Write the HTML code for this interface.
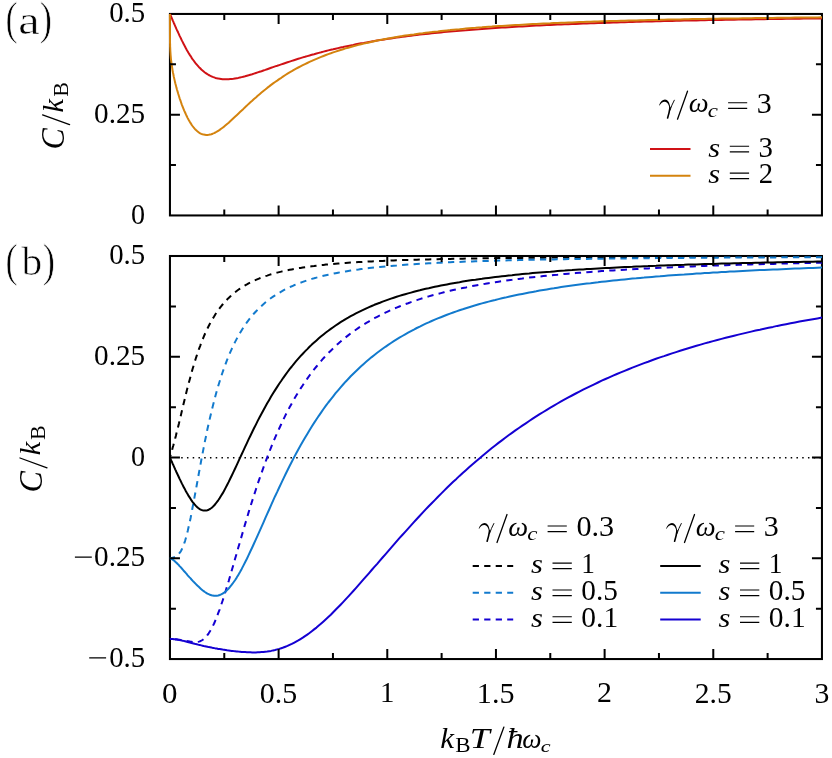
<!DOCTYPE html>
<html><head><meta charset="utf-8"><title>Specific heat of a damped free particle</title>
<style>
html,body{margin:0;padding:0;background:#fff;}
svg{display:block;}
text{font-family:"Liberation Serif",serif;font-size:200px;fill:#000;}
</style></head>
<body>
<svg width="832" height="758" viewBox="0 0 832 758">
<rect width="832" height="758" fill="#fff"/>
<!-- zero line -->
<path d="M181.2 457.82H821.0" stroke="#000" stroke-width="1.5" stroke-dasharray="1.5 4.25" fill="none"/>
<!-- frames -->
<rect x="169.95" y="13.95" width="652.00" height="201.50" fill="none" stroke="#000" stroke-width="2.05"/>
<rect x="169.95" y="256.00" width="652.00" height="403.05" fill="none" stroke="#000" stroke-width="2.05"/>
<!-- curves -->
<path d="M169.9 13.9 L170.2 14.4 L170.5 15.2 L170.7 15.7 L170.9 16.3 L171.2 16.8 L171.5 17.5 L171.8 18.3 L172.2 19.1 L172.5 20.0 L172.9 20.9 L173.4 21.9 L173.8 22.9 L174.3 24.0 L174.8 25.2 L175.3 26.3 L175.9 27.6 L176.4 28.9 L177.0 30.2 L177.7 31.5 L178.3 32.9 L179.0 34.4 L179.6 35.9 L180.4 37.4 L181.1 38.8 L181.8 40.4 L182.6 41.9 L183.4 43.5 L184.2 45.1 L185.1 46.7 L185.9 48.3 L186.8 49.9 L187.7 51.4 L188.6 53.0 L189.6 54.6 L190.6 56.1 L191.5 57.6 L192.5 59.1 L193.6 60.5 L194.6 61.9 L195.7 63.3 L196.8 64.6 L197.9 65.9 L199.0 67.2 L200.2 68.3 L201.3 69.5 L202.5 70.5 L203.7 71.5 L204.9 72.5 L206.2 73.4 L207.4 74.2 L208.7 75.0 L210.0 75.7 L211.4 76.3 L212.7 76.9 L214.1 77.4 L215.4 77.9 L216.8 78.2 L218.2 78.6 L219.7 78.8 L221.1 79.0 L222.6 79.2 L224.1 79.3 L225.6 79.3 L227.1 79.3 L228.7 79.2 L230.2 79.1 L231.8 79.0 L233.4 78.8 L235.0 78.5 L236.7 78.2 L238.3 77.9 L240.0 77.5 L241.7 77.1 L243.4 76.7 L245.1 76.3 L246.9 75.8 L248.6 75.3 L250.4 74.7 L252.2 74.2 L254.0 73.6 L255.9 73.0 L257.7 72.4 L259.6 71.8 L261.5 71.2 L263.4 70.5 L265.3 69.9 L267.2 69.2 L269.2 68.5 L271.1 67.8 L273.1 67.1 L275.1 66.4 L277.2 65.8 L279.2 65.1 L281.3 64.4 L283.3 63.7 L285.4 63.0 L287.5 62.3 L289.6 61.6 L291.8 60.9 L293.9 60.2 L296.1 59.5 L298.3 58.8 L300.5 58.1 L302.8 57.4 L305.0 56.8 L307.3 56.1 L309.5 55.5 L311.8 54.8 L314.1 54.2 L316.5 53.5 L318.8 52.9 L321.2 52.3 L323.5 51.6 L325.9 51.0 L328.3 50.4 L330.8 49.8 L333.2 49.3 L335.6 48.7 L338.1 48.1 L340.6 47.5 L343.1 47.0 L345.6 46.4 L348.2 45.9 L350.7 45.4 L353.3 44.9 L355.9 44.3 L358.5 43.8 L361.1 43.3 L363.7 42.9 L366.4 42.4 L369.1 41.9 L371.7 41.4 L374.4 41.0 L377.2 40.5 L379.9 40.1 L382.6 39.7 L385.4 39.2 L388.2 38.8 L391.0 38.4 L393.8 38.0 L396.6 37.6 L399.4 37.2 L402.3 36.8 L405.2 36.4 L408.1 36.1 L411.0 35.7 L413.9 35.3 L416.8 35.0 L419.8 34.6 L422.7 34.3 L425.7 34.0 L428.7 33.7 L431.7 33.3 L434.8 33.0 L437.8 32.7 L440.9 32.4 L443.9 32.1 L447.0 31.8 L450.1 31.5 L453.2 31.2 L456.4 31.0 L459.5 30.7 L462.7 30.4 L465.9 30.2 L469.1 29.9 L472.3 29.7 L475.5 29.4 L478.8 29.2 L482.0 28.9 L485.3 28.7 L488.6 28.5 L491.9 28.2 L495.2 28.0 L498.5 27.8 L501.9 27.6 L505.3 27.4 L508.6 27.2 L512.0 27.0 L515.4 26.8 L518.9 26.6 L522.3 26.4 L525.8 26.2 L529.2 26.0 L532.7 25.8 L536.2 25.6 L539.7 25.5 L543.3 25.3 L546.8 25.1 L550.4 25.0 L553.9 24.8 L557.5 24.6 L561.1 24.5 L564.7 24.3 L568.4 24.2 L572.0 24.0 L575.7 23.9 L579.4 23.7 L583.1 23.6 L586.8 23.4 L590.5 23.3 L594.2 23.2 L598.0 23.0 L601.7 22.9 L605.5 22.8 L609.3 22.7 L613.1 22.5 L616.9 22.4 L620.8 22.3 L624.6 22.2 L628.5 22.1 L632.4 21.9 L636.3 21.8 L640.2 21.7 L644.1 21.6 L648.1 21.5 L652.0 21.4 L656.0 21.3 L660.0 21.2 L664.0 21.1 L668.0 21.0 L672.0 20.9 L676.1 20.8 L680.1 20.7 L684.2 20.6 L688.3 20.5 L692.4 20.5 L696.5 20.4 L700.6 20.3 L704.7 20.2 L708.9 20.1 L713.1 20.0 L717.3 20.0 L721.5 19.9 L725.7 19.8 L729.9 19.7 L734.1 19.7 L738.4 19.6 L742.7 19.5 L746.9 19.4 L751.2 19.4 L755.6 19.3 L759.9 19.2 L764.2 19.2 L768.6 19.1 L773.0 19.0 L777.3 19.0 L781.7 18.9 L786.1 18.8 L790.6 18.8 L795.0 18.7 L799.5 18.7 L803.9 18.6 L808.4 18.5 L812.9 18.5 L817.4 18.4 L822.0 18.4 L822.0 18.4" stroke="#d01216" stroke-width="2" fill="none" stroke-linejoin="round" />
<path d="M169.9 13.9 L170.0 39.2 L170.0 43.1 L170.1 43.9 L170.1 46.3 L170.2 47.5 L170.3 49.9 L170.3 50.5 L170.5 53.3 L170.6 55.0 L170.7 56.0 L170.9 58.5 L171.0 59.5 L171.2 60.9 L171.5 63.3 L171.7 64.7 L171.8 65.6 L172.2 67.9 L172.5 70.1 L172.9 72.3 L173.4 74.5 L173.8 76.7 L174.3 78.9 L174.8 81.1 L175.3 83.3 L175.9 85.4 L176.4 87.6 L177.0 89.7 L177.7 91.9 L178.3 94.0 L179.0 96.2 L179.6 98.3 L180.4 100.4 L181.1 102.5 L181.8 104.6 L182.6 106.6 L183.4 108.6 L184.2 110.6 L185.1 112.5 L185.9 114.4 L186.8 116.3 L187.7 118.1 L188.6 119.8 L189.6 121.5 L190.6 123.1 L191.5 124.6 L192.5 126.0 L193.6 127.4 L194.6 128.6 L195.7 129.8 L196.8 130.8 L197.9 131.7 L199.0 132.6 L200.2 133.3 L201.3 133.8 L202.5 134.3 L203.7 134.6 L204.9 134.8 L206.2 135.0 L207.4 134.9 L208.7 134.8 L210.0 134.6 L211.4 134.2 L212.7 133.7 L214.1 133.1 L215.4 132.5 L216.8 131.7 L218.2 130.8 L219.7 129.9 L221.1 128.8 L222.6 127.7 L224.1 126.6 L225.6 125.3 L227.1 124.0 L228.7 122.7 L230.2 121.3 L231.8 119.8 L233.4 118.3 L235.0 116.8 L236.7 115.2 L238.3 113.7 L240.0 112.1 L241.7 110.5 L243.4 108.9 L245.1 107.2 L246.9 105.6 L248.6 103.9 L250.4 102.3 L252.2 100.7 L254.0 99.0 L255.9 97.4 L257.7 95.8 L259.6 94.2 L261.5 92.6 L263.4 91.0 L265.3 89.5 L267.2 87.9 L269.2 86.4 L271.1 84.9 L273.1 83.4 L275.1 82.0 L277.2 80.6 L279.2 79.1 L281.3 77.8 L283.3 76.4 L285.4 75.0 L287.5 73.7 L289.6 72.4 L291.8 71.2 L293.9 69.9 L296.1 68.7 L298.3 67.5 L300.5 66.3 L302.8 65.2 L305.0 64.1 L307.3 63.0 L309.5 61.9 L311.8 60.9 L314.1 59.8 L316.5 58.8 L318.8 57.9 L321.2 56.9 L323.5 56.0 L325.9 55.0 L328.3 54.1 L330.8 53.3 L333.2 52.4 L335.6 51.6 L338.1 50.8 L340.6 50.0 L343.1 49.2 L345.6 48.4 L348.2 47.7 L350.7 47.0 L353.3 46.3 L355.9 45.6 L358.5 44.9 L361.1 44.2 L363.7 43.6 L366.4 43.0 L369.1 42.4 L371.7 41.8 L374.4 41.2 L377.2 40.6 L379.9 40.1 L382.6 39.5 L385.4 39.0 L388.2 38.5 L391.0 38.0 L393.8 37.5 L396.6 37.0 L399.4 36.5 L402.3 36.1 L405.2 35.6 L408.1 35.2 L411.0 34.8 L413.9 34.4 L416.8 33.9 L419.8 33.5 L422.7 33.2 L425.7 32.8 L428.7 32.4 L431.7 32.1 L434.8 31.7 L437.8 31.4 L440.9 31.0 L443.9 30.7 L447.0 30.4 L450.1 30.1 L453.2 29.7 L456.4 29.4 L459.5 29.2 L462.7 28.9 L465.9 28.6 L469.1 28.3 L472.3 28.0 L475.5 27.8 L478.8 27.5 L482.0 27.3 L485.3 27.0 L488.6 26.8 L491.9 26.6 L495.2 26.3 L498.5 26.1 L501.9 25.9 L505.3 25.7 L508.6 25.5 L512.0 25.3 L515.4 25.1 L518.9 24.9 L522.3 24.7 L525.8 24.5 L529.2 24.3 L532.7 24.1 L536.2 24.0 L539.7 23.8 L543.3 23.6 L546.8 23.4 L550.4 23.3 L553.9 23.1 L557.5 23.0 L561.1 22.8 L564.7 22.7 L568.4 22.5 L572.0 22.4 L575.7 22.2 L579.4 22.1 L583.1 22.0 L586.8 21.8 L590.5 21.7 L594.2 21.6 L598.0 21.5 L601.7 21.3 L605.5 21.2 L609.3 21.1 L613.1 21.0 L616.9 20.9 L620.8 20.8 L624.6 20.7 L628.5 20.6 L632.4 20.5 L636.3 20.4 L640.2 20.3 L644.1 20.2 L648.1 20.1 L652.0 20.0 L656.0 19.9 L660.0 19.8 L664.0 19.7 L668.0 19.6 L672.0 19.5 L676.1 19.4 L680.1 19.4 L684.2 19.3 L688.3 19.2 L692.4 19.1 L696.5 19.0 L700.6 19.0 L704.7 18.9 L708.9 18.8 L713.1 18.8 L717.3 18.7 L721.5 18.6 L725.7 18.6 L729.9 18.5 L734.1 18.4 L738.4 18.4 L742.7 18.3 L746.9 18.2 L751.2 18.2 L755.6 18.1 L759.9 18.1 L764.2 18.0 L768.6 17.9 L773.0 17.9 L777.3 17.8 L781.7 17.8 L786.1 17.7 L790.6 17.7 L795.0 17.6 L799.5 17.6 L803.9 17.5 L808.4 17.5 L812.9 17.4 L817.4 17.4 L822.0 17.3 L822.0 17.3" stroke="#d4830e" stroke-width="2" fill="none" stroke-linejoin="round" />
<path d="M169.9 457.5 L170.1 456.9 L170.3 456.3 L170.5 455.6 L170.7 454.9 L170.9 454.0 L171.2 453.1 L171.5 452.0 L171.7 451.3 L172.2 449.6 L172.5 448.2 L172.9 446.8 L173.4 445.2 L173.8 443.5 L174.3 441.8 L174.8 439.9 L175.3 437.9 L175.9 435.7 L176.4 433.5 L177.0 431.1 L177.7 428.6 L178.3 426.0 L179.0 423.3 L179.6 420.4 L180.4 417.5 L181.1 414.4 L181.8 411.2 L182.6 408.0 L183.4 404.6 L184.2 401.2 L185.1 397.7 L185.9 394.2 L186.8 390.6 L187.7 387.1 L188.6 383.5 L189.6 379.9 L190.6 376.3 L191.5 372.7 L192.5 369.2 L193.6 365.6 L194.6 362.2 L195.7 358.8 L196.8 355.4 L197.9 352.1 L199.0 348.9 L200.2 345.8 L201.3 342.7 L202.5 339.7 L203.7 336.8 L204.9 334.0 L206.2 331.2 L207.4 328.6 L208.7 326.0 L210.0 323.5 L211.4 321.1 L212.7 318.7 L214.1 316.5 L215.4 314.3 L216.8 312.2 L218.2 310.2 L219.7 308.2 L221.1 306.3 L222.6 304.5 L224.1 302.8 L225.6 301.1 L227.1 299.5 L228.7 297.9 L230.2 296.5 L231.8 295.0 L233.4 293.6 L235.0 292.3 L236.7 291.0 L238.3 289.8 L240.0 288.6 L241.7 287.5 L243.4 286.4 L245.1 285.4 L246.9 284.4 L248.6 283.4 L250.4 282.5 L252.2 281.6 L254.0 280.7 L255.9 279.9 L257.7 279.1 L259.6 278.3 L261.5 277.6 L263.4 276.9 L265.3 276.2 L267.2 275.6 L269.2 274.9 L271.1 274.3 L273.1 273.7 L275.1 273.2 L277.2 272.6 L279.2 272.1 L281.3 271.6 L283.3 271.1 L285.4 270.7 L287.5 270.2 L289.6 269.8 L291.8 269.4 L293.9 269.0 L296.1 268.6 L298.3 268.2 L300.5 267.9 L302.8 267.5 L305.0 267.2 L307.3 266.9 L309.5 266.5 L311.8 266.2 L314.1 266.0 L316.5 265.7 L318.8 265.4 L321.2 265.1 L323.5 264.9 L325.9 264.6 L328.3 264.4 L330.8 264.2 L333.2 264.0 L335.6 263.7 L338.1 263.5 L340.6 263.3 L343.1 263.1 L345.6 263.0 L348.2 262.8 L350.7 262.6 L353.3 262.4 L355.9 262.3 L358.5 262.1 L361.1 262.0 L363.7 261.8 L366.4 261.7 L369.1 261.5 L371.7 261.4 L374.4 261.3 L377.2 261.1 L379.9 261.0 L382.6 260.9 L385.4 260.8 L388.2 260.7 L391.0 260.5 L393.8 260.4 L396.6 260.3 L399.4 260.2 L402.3 260.1 L405.2 260.0 L408.1 259.9 L411.0 259.9 L413.9 259.8 L416.8 259.7 L419.8 259.6 L422.7 259.5 L425.7 259.4 L428.7 259.4 L431.7 259.3 L434.8 259.2 L437.8 259.2 L440.9 259.1 L443.9 259.0 L447.0 259.0 L450.1 258.9 L453.2 258.8 L456.4 258.8 L459.5 258.7 L462.7 258.7 L465.9 258.6 L469.1 258.6 L472.3 258.5 L475.5 258.4 L478.8 258.4 L482.0 258.3 L485.3 258.3 L488.6 258.3 L491.9 258.2 L495.2 258.2 L498.5 258.1 L501.9 258.1 L505.3 258.0 L508.6 258.0 L512.0 258.0 L515.4 257.9 L518.9 257.9 L522.3 257.9 L525.8 257.8 L529.2 257.8 L532.7 257.8 L536.2 257.7 L539.7 257.7 L543.3 257.7 L546.8 257.6 L550.4 257.6 L553.9 257.6 L557.5 257.5 L561.1 257.5 L564.7 257.5 L568.4 257.5 L572.0 257.4 L575.7 257.4 L579.4 257.4 L583.1 257.4 L586.8 257.3 L590.5 257.3 L594.2 257.3 L598.0 257.3 L601.7 257.2 L605.5 257.2 L609.3 257.2 L613.1 257.2 L616.9 257.2 L620.8 257.1 L624.6 257.1 L628.5 257.1 L632.4 257.1 L636.3 257.1 L640.2 257.1 L644.1 257.0 L648.1 257.0 L652.0 257.0 L656.0 257.0 L660.0 257.0 L664.0 257.0 L668.0 256.9 L672.0 256.9 L676.1 256.9 L680.1 256.9 L684.2 256.9 L688.3 256.9 L692.4 256.9 L696.5 256.8 L700.6 256.8 L704.7 256.8 L708.9 256.8 L713.1 256.8 L717.3 256.8 L721.5 256.8 L725.7 256.8 L729.9 256.7 L734.1 256.7 L738.4 256.7 L742.7 256.7 L746.9 256.7 L751.2 256.7 L755.6 256.7 L759.9 256.7 L764.2 256.7 L768.6 256.7 L773.0 256.6 L777.3 256.6 L781.7 256.6 L786.1 256.6 L790.6 256.6 L795.0 256.6 L799.5 256.6 L803.9 256.6 L808.4 256.6 L812.9 256.6 L817.4 256.6 L822.0 256.6 L822.0 256.6" stroke="#000000" stroke-width="2" fill="none" stroke-linejoin="round" stroke-dasharray="6.25 5.25" stroke-dashoffset="3.4"/>
<path d="M169.9 558.3 L170.5 558.2 L171.0 558.2 L171.7 558.0 L172.5 557.8 L173.4 557.5 L174.3 557.2 L174.8 556.9 L175.3 556.7 L175.9 556.3 L176.4 556.0 L177.0 555.5 L177.7 555.0 L178.3 554.4 L179.0 553.7 L179.6 552.9 L180.4 551.9 L181.1 550.7 L181.8 549.3 L182.6 547.6 L183.4 545.7 L184.2 543.4 L185.1 540.8 L185.9 537.9 L186.8 534.6 L187.7 531.0 L188.6 527.0 L189.6 522.7 L190.6 518.0 L191.5 513.1 L192.5 507.8 L193.6 502.4 L194.6 496.7 L195.7 490.8 L196.8 484.8 L197.9 478.7 L199.0 472.5 L200.2 466.3 L201.3 460.0 L202.5 453.8 L203.7 447.6 L204.9 441.4 L206.2 435.3 L207.4 429.3 L208.7 423.4 L210.0 417.7 L211.4 412.0 L212.7 406.5 L214.1 401.2 L215.4 396.0 L216.8 390.9 L218.2 386.0 L219.7 381.2 L221.1 376.7 L222.6 372.2 L224.1 367.9 L225.6 363.8 L227.1 359.8 L228.7 356.0 L230.2 352.3 L231.8 348.8 L233.4 345.3 L235.0 342.1 L236.7 338.9 L238.3 335.9 L240.0 333.0 L241.7 330.2 L243.4 327.5 L245.1 324.9 L246.9 322.4 L248.6 320.1 L250.4 317.8 L252.2 315.6 L254.0 313.5 L255.9 311.5 L257.7 309.6 L259.6 307.7 L261.5 305.9 L263.4 304.2 L265.3 302.6 L267.2 301.0 L269.2 299.5 L271.1 298.0 L273.1 296.6 L275.1 295.3 L277.2 294.0 L279.2 292.8 L281.3 291.6 L283.3 290.4 L285.4 289.3 L287.5 288.3 L289.6 287.2 L291.8 286.3 L293.9 285.3 L296.1 284.4 L298.3 283.5 L300.5 282.7 L302.8 281.9 L305.0 281.1 L307.3 280.3 L309.5 279.6 L311.8 278.9 L314.1 278.3 L316.5 277.6 L318.8 277.0 L321.2 276.4 L323.5 275.8 L325.9 275.2 L328.3 274.7 L330.8 274.2 L333.2 273.7 L335.6 273.2 L338.1 272.7 L340.6 272.2 L343.1 271.8 L345.6 271.4 L348.2 271.0 L350.7 270.6 L353.3 270.2 L355.9 269.8 L358.5 269.5 L361.1 269.1 L363.7 268.8 L366.4 268.4 L369.1 268.1 L371.7 267.8 L374.4 267.5 L377.2 267.2 L379.9 267.0 L382.6 266.7 L385.4 266.4 L388.2 266.2 L391.0 265.9 L393.8 265.7 L396.6 265.5 L399.4 265.2 L402.3 265.0 L405.2 264.8 L408.1 264.6 L411.0 264.4 L413.9 264.2 L416.8 264.0 L419.8 263.8 L422.7 263.7 L425.7 263.5 L428.7 263.3 L431.7 263.2 L434.8 263.0 L437.8 262.8 L440.9 262.7 L443.9 262.5 L447.0 262.4 L450.1 262.3 L453.2 262.1 L456.4 262.0 L459.5 261.9 L462.7 261.7 L465.9 261.6 L469.1 261.5 L472.3 261.4 L475.5 261.3 L478.8 261.2 L482.0 261.1 L485.3 261.0 L488.6 260.9 L491.9 260.8 L495.2 260.7 L498.5 260.6 L501.9 260.5 L505.3 260.4 L508.6 260.3 L512.0 260.2 L515.4 260.2 L518.9 260.1 L522.3 260.0 L525.8 259.9 L529.2 259.8 L532.7 259.8 L536.2 259.7 L539.7 259.6 L543.3 259.6 L546.8 259.5 L550.4 259.4 L553.9 259.4 L557.5 259.3 L561.1 259.3 L564.7 259.2 L568.4 259.1 L572.0 259.1 L575.7 259.0 L579.4 259.0 L583.1 258.9 L586.8 258.9 L590.5 258.8 L594.2 258.8 L598.0 258.7 L601.7 258.7 L605.5 258.6 L609.3 258.6 L613.1 258.5 L616.9 258.5 L620.8 258.5 L624.6 258.4 L628.5 258.4 L632.4 258.3 L636.3 258.3 L640.2 258.3 L644.1 258.2 L648.1 258.2 L652.0 258.2 L656.0 258.1 L660.0 258.1 L664.0 258.0 L668.0 258.0 L672.0 258.0 L676.1 258.0 L680.1 257.9 L684.2 257.9 L688.3 257.9 L692.4 257.8 L696.5 257.8 L700.6 257.8 L704.7 257.8 L708.9 257.7 L713.1 257.7 L717.3 257.7 L721.5 257.6 L725.7 257.6 L729.9 257.6 L734.1 257.6 L738.4 257.6 L742.7 257.5 L746.9 257.5 L751.2 257.5 L755.6 257.5 L759.9 257.4 L764.2 257.4 L768.6 257.4 L773.0 257.4 L777.3 257.4 L781.7 257.3 L786.1 257.3 L790.6 257.3 L795.0 257.3 L799.5 257.3 L803.9 257.2 L808.4 257.2 L812.9 257.2 L817.4 257.2 L822.0 257.2 L822.0 257.2" stroke="#127acd" stroke-width="2" fill="none" stroke-linejoin="round" stroke-dasharray="6.25 5.25" stroke-dashoffset="1.0"/>
<path d="M169.9 638.9 L170.5 638.8 L171.0 638.9 L171.7 639.0 L172.5 638.9 L173.4 639.0 L174.3 639.1 L174.8 639.1 L175.3 639.2 L175.9 639.2 L176.4 639.3 L177.0 639.4 L177.7 639.5 L178.3 639.6 L179.0 639.7 L179.6 639.7 L180.4 639.9 L181.1 640.0 L181.8 640.1 L182.6 640.3 L183.4 640.4 L184.2 640.5 L185.1 640.7 L185.9 640.8 L186.8 641.0 L187.7 641.2 L188.6 641.3 L189.6 641.5 L190.6 641.7 L191.5 641.8 L192.5 641.9 L193.6 642.0 L194.6 642.1 L195.7 642.1 L196.8 642.0 L197.9 641.9 L199.0 641.6 L200.2 641.2 L201.3 640.7 L202.5 640.0 L203.7 639.1 L204.9 638.0 L206.2 636.7 L207.4 635.1 L208.7 633.3 L210.0 631.3 L211.4 628.9 L212.7 626.3 L214.1 623.5 L215.4 620.3 L216.8 616.9 L218.2 613.2 L219.7 609.3 L221.1 605.1 L222.6 600.7 L224.1 596.1 L225.6 591.2 L227.1 586.2 L228.7 581.1 L230.2 575.8 L231.8 570.3 L233.4 564.8 L235.0 559.1 L236.7 553.4 L238.3 547.6 L240.0 541.8 L241.7 535.9 L243.4 530.0 L245.1 524.1 L246.9 518.3 L248.6 512.4 L250.4 506.6 L252.2 500.9 L254.0 495.2 L255.9 489.5 L257.7 483.9 L259.6 478.4 L261.5 473.0 L263.4 467.7 L265.3 462.4 L267.2 457.3 L269.2 452.2 L271.1 447.3 L273.1 442.4 L275.1 437.6 L277.2 433.0 L279.2 428.5 L281.3 424.0 L283.3 419.7 L285.4 415.4 L287.5 411.3 L289.6 407.3 L291.8 403.4 L293.9 399.5 L296.1 395.8 L298.3 392.2 L300.5 388.6 L302.8 385.2 L305.0 381.9 L307.3 378.6 L309.5 375.5 L311.8 372.4 L314.1 369.4 L316.5 366.5 L318.8 363.7 L321.2 360.9 L323.5 358.2 L325.9 355.6 L328.3 353.1 L330.8 350.7 L333.2 348.3 L335.6 346.0 L338.1 343.7 L340.6 341.6 L343.1 339.4 L345.6 337.4 L348.2 335.4 L350.7 333.4 L353.3 331.5 L355.9 329.7 L358.5 327.9 L361.1 326.2 L363.7 324.5 L366.4 322.9 L369.1 321.3 L371.7 319.7 L374.4 318.2 L377.2 316.8 L379.9 315.4 L382.6 314.0 L385.4 312.6 L388.2 311.3 L391.0 310.1 L393.8 308.8 L396.6 307.6 L399.4 306.5 L402.3 305.3 L405.2 304.2 L408.1 303.2 L411.0 302.1 L413.9 301.1 L416.8 300.1 L419.8 299.1 L422.7 298.2 L425.7 297.3 L428.7 296.4 L431.7 295.5 L434.8 294.7 L437.8 293.9 L440.9 293.1 L443.9 292.3 L447.0 291.5 L450.1 290.8 L453.2 290.1 L456.4 289.4 L459.5 288.7 L462.7 288.0 L465.9 287.4 L469.1 286.7 L472.3 286.1 L475.5 285.5 L478.8 284.9 L482.0 284.3 L485.3 283.8 L488.6 283.2 L491.9 282.7 L495.2 282.2 L498.5 281.7 L501.9 281.2 L505.3 280.7 L508.6 280.2 L512.0 279.8 L515.4 279.3 L518.9 278.9 L522.3 278.5 L525.8 278.0 L529.2 277.6 L532.7 277.2 L536.2 276.8 L539.7 276.5 L543.3 276.1 L546.8 275.7 L550.4 275.4 L553.9 275.0 L557.5 274.7 L561.1 274.3 L564.7 274.0 L568.4 273.7 L572.0 273.4 L575.7 273.1 L579.4 272.8 L583.1 272.5 L586.8 272.2 L590.5 271.9 L594.2 271.7 L598.0 271.4 L601.7 271.1 L605.5 270.9 L609.3 270.6 L613.1 270.4 L616.9 270.1 L620.8 269.9 L624.6 269.7 L628.5 269.5 L632.4 269.2 L636.3 269.0 L640.2 268.8 L644.1 268.6 L648.1 268.4 L652.0 268.2 L656.0 268.0 L660.0 267.8 L664.0 267.6 L668.0 267.4 L672.0 267.3 L676.1 267.1 L680.1 266.9 L684.2 266.7 L688.3 266.6 L692.4 266.4 L696.5 266.3 L700.6 266.1 L704.7 265.9 L708.9 265.8 L713.1 265.6 L717.3 265.5 L721.5 265.4 L725.7 265.2 L729.9 265.1 L734.1 265.0 L738.4 264.8 L742.7 264.7 L746.9 264.6 L751.2 264.4 L755.6 264.3 L759.9 264.2 L764.2 264.1 L768.6 264.0 L773.0 263.9 L777.3 263.7 L781.7 263.6 L786.1 263.5 L790.6 263.4 L795.0 263.3 L799.5 263.2 L803.9 263.1 L808.4 263.0 L812.9 262.9 L817.4 262.8 L822.0 262.7 L822.0 262.7" stroke="#1400d2" stroke-width="2" fill="none" stroke-linejoin="round" stroke-dasharray="6.25 5.25" stroke-dashoffset="6.2"/>
<path d="M169.9 457.5 L170.2 458.0 L170.5 458.7 L170.7 459.2 L170.9 459.7 L171.2 460.4 L171.5 461.0 L171.7 461.5 L172.2 462.6 L172.5 463.4 L172.9 464.3 L173.4 465.2 L173.8 466.2 L174.3 467.3 L174.8 468.4 L175.3 469.6 L175.9 470.8 L176.4 472.0 L177.0 473.3 L177.7 474.7 L178.3 476.0 L179.0 477.5 L179.6 478.9 L180.4 480.4 L181.1 481.9 L181.8 483.4 L182.6 484.9 L183.4 486.5 L184.2 488.1 L185.1 489.6 L185.9 491.2 L186.8 492.8 L187.7 494.3 L188.6 495.9 L189.6 497.4 L190.6 498.9 L191.5 500.4 L192.5 501.8 L193.6 503.1 L194.6 504.4 L195.7 505.6 L196.8 506.7 L197.9 507.7 L199.0 508.6 L200.2 509.3 L201.3 509.9 L202.5 510.3 L203.7 510.6 L204.9 510.6 L206.2 510.5 L207.4 510.2 L208.7 509.7 L210.0 509.0 L211.4 508.0 L212.7 506.9 L214.1 505.5 L215.4 504.0 L216.8 502.2 L218.2 500.3 L219.7 498.1 L221.1 495.8 L222.6 493.4 L224.1 490.7 L225.6 487.9 L227.1 485.0 L228.7 481.9 L230.2 478.8 L231.8 475.5 L233.4 472.1 L235.0 468.7 L236.7 465.1 L238.3 461.6 L240.0 457.9 L241.7 454.3 L243.4 450.6 L245.1 446.9 L246.9 443.1 L248.6 439.4 L250.4 435.7 L252.2 432.0 L254.0 428.3 L255.9 424.6 L257.7 420.9 L259.6 417.3 L261.5 413.8 L263.4 410.2 L265.3 406.7 L267.2 403.3 L269.2 399.9 L271.1 396.6 L273.1 393.3 L275.1 390.1 L277.2 386.9 L279.2 383.8 L281.3 380.8 L283.3 377.8 L285.4 374.9 L287.5 372.0 L289.6 369.2 L291.8 366.5 L293.9 363.8 L296.1 361.2 L298.3 358.7 L300.5 356.2 L302.8 353.7 L305.0 351.4 L307.3 349.1 L309.5 346.8 L311.8 344.6 L314.1 342.5 L316.5 340.4 L318.8 338.3 L321.2 336.3 L323.5 334.4 L325.9 332.5 L328.3 330.7 L330.8 328.9 L333.2 327.2 L335.6 325.5 L338.1 323.8 L340.6 322.2 L343.1 320.7 L345.6 319.1 L348.2 317.7 L350.7 316.2 L353.3 314.8 L355.9 313.4 L358.5 312.1 L361.1 310.8 L363.7 309.6 L366.4 308.3 L369.1 307.1 L371.7 306.0 L374.4 304.8 L377.2 303.7 L379.9 302.7 L382.6 301.6 L385.4 300.6 L388.2 299.6 L391.0 298.6 L393.8 297.7 L396.6 296.8 L399.4 295.9 L402.3 295.0 L405.2 294.2 L408.1 293.4 L411.0 292.6 L413.9 291.8 L416.8 291.0 L419.8 290.3 L422.7 289.5 L425.7 288.8 L428.7 288.2 L431.7 287.5 L434.8 286.8 L437.8 286.2 L440.9 285.6 L443.9 285.0 L447.0 284.4 L450.1 283.8 L453.2 283.2 L456.4 282.7 L459.5 282.2 L462.7 281.6 L465.9 281.1 L469.1 280.6 L472.3 280.1 L475.5 279.7 L478.8 279.2 L482.0 278.8 L485.3 278.3 L488.6 277.9 L491.9 277.5 L495.2 277.1 L498.5 276.7 L501.9 276.3 L505.3 275.9 L508.6 275.5 L512.0 275.2 L515.4 274.8 L518.9 274.4 L522.3 274.1 L525.8 273.8 L529.2 273.5 L532.7 273.1 L536.2 272.8 L539.7 272.5 L543.3 272.2 L546.8 271.9 L550.4 271.7 L553.9 271.4 L557.5 271.1 L561.1 270.8 L564.7 270.6 L568.4 270.3 L572.0 270.1 L575.7 269.8 L579.4 269.6 L583.1 269.4 L586.8 269.1 L590.5 268.9 L594.2 268.7 L598.0 268.5 L601.7 268.3 L605.5 268.1 L609.3 267.9 L613.1 267.7 L616.9 267.5 L620.8 267.3 L624.6 267.1 L628.5 266.9 L632.4 266.8 L636.3 266.6 L640.2 266.4 L644.1 266.2 L648.1 266.1 L652.0 265.9 L656.0 265.8 L660.0 265.6 L664.0 265.5 L668.0 265.3 L672.0 265.2 L676.1 265.0 L680.1 264.9 L684.2 264.8 L688.3 264.6 L692.4 264.5 L696.5 264.4 L700.6 264.2 L704.7 264.1 L708.9 264.0 L713.1 263.9 L717.3 263.7 L721.5 263.6 L725.7 263.5 L729.9 263.4 L734.1 263.3 L738.4 263.2 L742.7 263.1 L746.9 263.0 L751.2 262.9 L755.6 262.8 L759.9 262.7 L764.2 262.6 L768.6 262.5 L773.0 262.4 L777.3 262.3 L781.7 262.2 L786.1 262.1 L790.6 262.1 L795.0 262.0 L799.5 261.9 L803.9 261.8 L808.4 261.7 L812.9 261.7 L817.4 261.6 L822.0 261.5 L822.0 261.5" stroke="#000000" stroke-width="2" fill="none" stroke-linejoin="round" />
<path d="M169.9 558.3 L170.5 558.4 L171.0 558.6 L171.7 559.0 L172.2 559.2 L172.9 559.7 L173.4 560.1 L173.8 560.4 L174.3 560.8 L174.8 561.2 L175.3 561.7 L175.9 562.2 L176.4 562.7 L177.0 563.3 L177.7 564.0 L178.3 564.6 L179.0 565.3 L179.6 566.1 L180.4 566.9 L181.1 567.7 L181.8 568.5 L182.6 569.4 L183.4 570.3 L184.2 571.3 L185.1 572.2 L185.9 573.2 L186.8 574.2 L187.7 575.3 L188.6 576.3 L189.6 577.4 L190.6 578.4 L191.5 579.5 L192.5 580.6 L193.6 581.7 L194.6 582.8 L195.7 583.9 L196.8 585.0 L197.9 586.1 L199.0 587.1 L200.2 588.2 L201.3 589.2 L202.5 590.2 L203.7 591.1 L204.9 592.0 L206.2 592.8 L207.4 593.6 L208.7 594.2 L210.0 594.8 L211.4 595.2 L212.7 595.6 L214.1 595.8 L215.4 595.8 L216.8 595.7 L218.2 595.5 L219.7 595.0 L221.1 594.4 L222.6 593.6 L224.1 592.6 L225.6 591.5 L227.1 590.1 L228.7 588.5 L230.2 586.7 L231.8 584.7 L233.4 582.5 L235.0 580.2 L236.7 577.6 L238.3 574.9 L240.0 572.0 L241.7 568.9 L243.4 565.6 L245.1 562.3 L246.9 558.7 L248.6 555.1 L250.4 551.3 L252.2 547.5 L254.0 543.5 L255.9 539.4 L257.7 535.3 L259.6 531.1 L261.5 526.9 L263.4 522.6 L265.3 518.2 L267.2 513.9 L269.2 509.5 L271.1 505.1 L273.1 500.7 L275.1 496.2 L277.2 491.9 L279.2 487.5 L281.3 483.1 L283.3 478.8 L285.4 474.5 L287.5 470.2 L289.6 466.0 L291.8 461.8 L293.9 457.6 L296.1 453.5 L298.3 449.5 L300.5 445.5 L302.8 441.6 L305.0 437.7 L307.3 433.9 L309.5 430.2 L311.8 426.5 L314.1 422.9 L316.5 419.3 L318.8 415.8 L321.2 412.4 L323.5 409.0 L325.9 405.7 L328.3 402.5 L330.8 399.4 L333.2 396.3 L335.6 393.2 L338.1 390.3 L340.6 387.3 L343.1 384.5 L345.6 381.7 L348.2 379.0 L350.7 376.3 L353.3 373.7 L355.9 371.2 L358.5 368.7 L361.1 366.3 L363.7 363.9 L366.4 361.6 L369.1 359.3 L371.7 357.1 L374.4 355.0 L377.2 352.8 L379.9 350.8 L382.6 348.8 L385.4 346.8 L388.2 344.9 L391.0 343.0 L393.8 341.2 L396.6 339.4 L399.4 337.7 L402.3 336.0 L405.2 334.3 L408.1 332.7 L411.0 331.1 L413.9 329.6 L416.8 328.0 L419.8 326.6 L422.7 325.1 L425.7 323.7 L428.7 322.4 L431.7 321.0 L434.8 319.7 L437.8 318.4 L440.9 317.2 L443.9 316.0 L447.0 314.8 L450.1 313.6 L453.2 312.5 L456.4 311.4 L459.5 310.3 L462.7 309.3 L465.9 308.2 L469.1 307.2 L472.3 306.2 L475.5 305.3 L478.8 304.3 L482.0 303.4 L485.3 302.5 L488.6 301.6 L491.9 300.8 L495.2 300.0 L498.5 299.1 L501.9 298.3 L505.3 297.6 L508.6 296.8 L512.0 296.0 L515.4 295.3 L518.9 294.6 L522.3 293.9 L525.8 293.2 L529.2 292.5 L532.7 291.9 L536.2 291.3 L539.7 290.6 L543.3 290.0 L546.8 289.4 L550.4 288.8 L553.9 288.3 L557.5 287.7 L561.1 287.1 L564.7 286.6 L568.4 286.1 L572.0 285.6 L575.7 285.1 L579.4 284.6 L583.1 284.1 L586.8 283.6 L590.5 283.2 L594.2 282.7 L598.0 282.3 L601.7 281.8 L605.5 281.4 L609.3 281.0 L613.1 280.6 L616.9 280.2 L620.8 279.8 L624.6 279.4 L628.5 279.0 L632.4 278.6 L636.3 278.3 L640.2 277.9 L644.1 277.6 L648.1 277.2 L652.0 276.9 L656.0 276.6 L660.0 276.3 L664.0 275.9 L668.0 275.6 L672.0 275.3 L676.1 275.0 L680.1 274.7 L684.2 274.5 L688.3 274.2 L692.4 273.9 L696.5 273.6 L700.6 273.4 L704.7 273.1 L708.9 272.9 L713.1 272.6 L717.3 272.4 L721.5 272.1 L725.7 271.9 L729.9 271.6 L734.1 271.4 L738.4 271.2 L742.7 271.0 L746.9 270.8 L751.2 270.6 L755.6 270.3 L759.9 270.1 L764.2 269.9 L768.6 269.7 L773.0 269.5 L777.3 269.4 L781.7 269.2 L786.1 269.0 L790.6 268.8 L795.0 268.6 L799.5 268.5 L803.9 268.3 L808.4 268.1 L812.9 267.9 L817.4 267.8 L822.0 267.6 L822.0 267.6" stroke="#127acd" stroke-width="2" fill="none" stroke-linejoin="round" />
<path d="M169.9 638.9 L170.5 638.8 L170.9 639.0 L171.5 639.0 L172.2 638.9 L172.9 639.0 L173.8 639.2 L174.8 639.2 L175.3 639.4 L175.9 639.3 L176.4 639.4 L177.0 639.5 L177.7 639.7 L178.3 639.8 L179.0 639.9 L179.6 640.0 L180.4 640.2 L181.1 640.3 L181.8 640.5 L182.6 640.7 L183.4 640.9 L184.2 641.1 L185.1 641.3 L185.9 641.5 L186.8 641.7 L187.7 642.0 L188.6 642.2 L189.6 642.4 L190.6 642.7 L191.5 643.0 L192.5 643.2 L193.6 643.5 L194.6 643.8 L195.7 644.1 L196.8 644.3 L197.9 644.6 L199.0 644.9 L200.2 645.1 L201.3 645.4 L202.5 645.7 L203.7 646.0 L204.9 646.2 L206.2 646.5 L207.4 646.8 L208.7 647.1 L210.0 647.3 L211.4 647.6 L212.7 647.9 L214.1 648.1 L215.4 648.4 L216.8 648.6 L218.2 648.9 L219.7 649.1 L221.1 649.3 L222.6 649.6 L224.1 649.8 L225.6 650.0 L227.1 650.3 L228.7 650.5 L230.2 650.7 L231.8 650.9 L233.4 651.1 L235.0 651.2 L236.7 651.4 L238.3 651.6 L240.0 651.7 L241.7 651.9 L243.4 652.0 L245.1 652.1 L246.9 652.2 L248.6 652.3 L250.4 652.3 L252.2 652.4 L254.0 652.4 L255.9 652.4 L257.7 652.3 L259.6 652.2 L261.5 652.1 L263.4 652.0 L265.3 651.7 L267.2 651.5 L269.2 651.2 L271.1 650.9 L273.1 650.4 L275.1 650.0 L277.2 649.4 L279.2 648.9 L281.3 648.2 L283.3 647.5 L285.4 646.7 L287.5 645.9 L289.6 644.9 L291.8 643.9 L293.9 642.8 L296.1 641.6 L298.3 640.4 L300.5 639.1 L302.8 637.7 L305.0 636.2 L307.3 634.6 L309.5 633.0 L311.8 631.2 L314.1 629.4 L316.5 627.6 L318.8 625.6 L321.2 623.5 L323.5 621.4 L325.9 619.2 L328.3 617.0 L330.8 614.7 L333.2 612.2 L335.6 609.8 L338.1 607.3 L340.6 604.7 L343.1 602.1 L345.6 599.4 L348.2 596.6 L350.7 593.8 L353.3 591.0 L355.9 588.1 L358.5 585.2 L361.1 582.2 L363.7 579.2 L366.4 576.2 L369.1 573.1 L371.7 570.0 L374.4 566.9 L377.2 563.8 L379.9 560.6 L382.6 557.5 L385.4 554.3 L388.2 551.1 L391.0 547.9 L393.8 544.7 L396.6 541.4 L399.4 538.2 L402.3 535.0 L405.2 531.8 L408.1 528.6 L411.0 525.4 L413.9 522.2 L416.8 519.0 L419.8 515.8 L422.7 512.6 L425.7 509.4 L428.7 506.3 L431.7 503.2 L434.8 500.1 L437.8 497.0 L440.9 493.9 L443.9 490.9 L447.0 487.8 L450.1 484.8 L453.2 481.8 L456.4 478.9 L459.5 475.9 L462.7 473.0 L465.9 470.2 L469.1 467.3 L472.3 464.5 L475.5 461.7 L478.8 458.9 L482.0 456.2 L485.3 453.5 L488.6 450.8 L491.9 448.1 L495.2 445.5 L498.5 442.9 L501.9 440.4 L505.3 437.8 L508.6 435.3 L512.0 432.9 L515.4 430.4 L518.9 428.0 L522.3 425.6 L525.8 423.3 L529.2 421.0 L532.7 418.7 L536.2 416.4 L539.7 414.2 L543.3 412.0 L546.8 409.8 L550.4 407.7 L553.9 405.6 L557.5 403.5 L561.1 401.4 L564.7 399.4 L568.4 397.4 L572.0 395.5 L575.7 393.5 L579.4 391.6 L583.1 389.7 L586.8 387.9 L590.5 386.1 L594.2 384.3 L598.0 382.5 L601.7 380.7 L605.5 379.0 L609.3 377.3 L613.1 375.6 L616.9 374.0 L620.8 372.4 L624.6 370.8 L628.5 369.2 L632.4 367.6 L636.3 366.1 L640.2 364.6 L644.1 363.1 L648.1 361.7 L652.0 360.2 L656.0 358.8 L660.0 357.4 L664.0 356.1 L668.0 354.7 L672.0 353.4 L676.1 352.1 L680.1 350.8 L684.2 349.5 L688.3 348.2 L692.4 347.0 L696.5 345.8 L700.6 344.6 L704.7 343.4 L708.9 342.3 L713.1 341.1 L717.3 340.0 L721.5 338.9 L725.7 337.8 L729.9 336.7 L734.1 335.7 L738.4 334.6 L742.7 333.6 L746.9 332.6 L751.2 331.6 L755.6 330.6 L759.9 329.7 L764.2 328.7 L768.6 327.8 L773.0 326.9 L777.3 325.9 L781.7 325.0 L786.1 324.2 L790.6 323.3 L795.0 322.5 L799.5 321.6 L803.9 320.8 L808.4 320.0 L812.9 319.2 L817.4 318.4 L822.0 317.6 L822.0 317.6" stroke="#1400d2" stroke-width="2" fill="none" stroke-linejoin="round" />
<!-- ticks -->
<path d="M224.28 215.45v-6.0M224.28 13.95v6.0M278.62 215.45v-10.0M278.62 13.95v10.0M332.95 215.45v-6.0M332.95 13.95v6.0M387.28 215.45v-10.0M387.28 13.95v10.0M441.62 215.45v-6.0M441.62 13.95v6.0M495.95 215.45v-10.0M495.95 13.95v10.0M550.28 215.45v-6.0M550.28 13.95v6.0M604.62 215.45v-10.0M604.62 13.95v10.0M658.95 215.45v-6.0M658.95 13.95v6.0M713.28 215.45v-10.0M713.28 13.95v10.0M767.62 215.45v-6.0M767.62 13.95v6.0M169.95 165.07h6.0M821.95 165.07h-6.0M169.95 114.70h10.0M821.95 114.70h-10.0M169.95 64.32h6.0M821.95 64.32h-6.0M224.28 659.05v-6.0M224.28 256.00v6.0M278.62 659.05v-10.0M278.62 256.00v10.0M332.95 659.05v-6.0M332.95 256.00v6.0M387.28 659.05v-10.0M387.28 256.00v10.0M441.62 659.05v-6.0M441.62 256.00v6.0M495.95 659.05v-10.0M495.95 256.00v10.0M550.28 659.05v-6.0M550.28 256.00v6.0M604.62 659.05v-10.0M604.62 256.00v10.0M658.95 659.05v-6.0M658.95 256.00v6.0M713.28 659.05v-10.0M713.28 256.00v10.0M767.62 659.05v-6.0M767.62 256.00v6.0M169.95 608.67h6.0M821.95 608.67h-6.0M169.95 558.29h10.0M821.95 558.29h-10.0M169.95 507.91h6.0M821.95 507.91h-6.0M169.95 457.52h10.0M821.95 457.52h-10.0M169.95 407.14h6.0M821.95 407.14h-6.0M169.95 356.76h10.0M821.95 356.76h-10.0M169.95 306.38h6.0M821.95 306.38h-6.0" stroke="#000" stroke-width="2" fill="none"/>
<!-- legend lines, operators -->
<path d="M42.6 114.9L69.6 124.6" stroke="#000" stroke-width="1.3" fill="none" stroke-linecap="round"/>
<path d="M20.0 458.0L47.0 467.9" stroke="#000" stroke-width="1.3" fill="none" stroke-linecap="round"/>
<path d="M493.8 754.4L503.9 727.1" stroke="#000" stroke-width="1.3" fill="none" stroke-linecap="round"/>
<g transform="translate(659.10 99.60)"><title>γ</title><path d="M0 5.6C1.2 2.2 3.4 0 5.9 0C8.6 0 10.4 2.8 11.2 7.6L10.6 10.4C10.3 6.2 8.6 2.4 5.7 2.2C3.6 2.1 1.8 3.6 0.5 5.9Z" fill="#000"/><path d="M10.9 8C10.4 11.5 9.4 15.5 8.5 18.4" stroke="#000" stroke-width="1.6" fill="none" stroke-linecap="round"/><path d="M15.2 0.6C13.6 3.6 11.9 7.4 10.9 10.6" stroke="#000" stroke-width="0.95" fill="none" stroke-linecap="round"/></g>
<path d="M677.5 119.2L687.5 91.2" stroke="#000" stroke-width="1.3" fill="none" stroke-linecap="round"/>
<path d="M728.1 102.70H747.2M728.1 108.30H747.2" stroke="#000" stroke-width="1.15" fill="none"/>
<g transform="translate(478.65 522.90)"><title>γ</title><path d="M0 5.6C1.2 2.2 3.4 0 5.9 0C8.6 0 10.4 2.8 11.2 7.6L10.6 10.4C10.3 6.2 8.6 2.4 5.7 2.2C3.6 2.1 1.8 3.6 0.5 5.9Z" fill="#000"/><path d="M10.9 8C10.4 11.5 9.4 15.5 8.5 18.4" stroke="#000" stroke-width="1.6" fill="none" stroke-linecap="round"/><path d="M15.2 0.6C13.6 3.6 11.9 7.4 10.9 10.6" stroke="#000" stroke-width="0.95" fill="none" stroke-linecap="round"/></g>
<path d="M497.0 542.5L507.0 514.5" stroke="#000" stroke-width="1.3" fill="none" stroke-linecap="round"/>
<path d="M547.6 526.00H566.8M547.6 531.60H566.8" stroke="#000" stroke-width="1.15" fill="none"/>
<g transform="translate(666.10 522.90)"><title>γ</title><path d="M0 5.6C1.2 2.2 3.4 0 5.9 0C8.6 0 10.4 2.8 11.2 7.6L10.6 10.4C10.3 6.2 8.6 2.4 5.7 2.2C3.6 2.1 1.8 3.6 0.5 5.9Z" fill="#000"/><path d="M10.9 8C10.4 11.5 9.4 15.5 8.5 18.4" stroke="#000" stroke-width="1.6" fill="none" stroke-linecap="round"/><path d="M15.2 0.6C13.6 3.6 11.9 7.4 10.9 10.6" stroke="#000" stroke-width="0.95" fill="none" stroke-linecap="round"/></g>
<path d="M684.5 542.5L694.5 514.5" stroke="#000" stroke-width="1.3" fill="none" stroke-linecap="round"/>
<path d="M735.1 526.00H754.2M735.1 531.60H754.2" stroke="#000" stroke-width="1.15" fill="none"/>
<path d="M729.8 146.20H749.1M729.8 151.80H749.1" stroke="#000" stroke-width="1.15" fill="none"/>
<path d="M729.8 173.05H749.1M729.8 178.65H749.1" stroke="#000" stroke-width="1.15" fill="none"/>
<path d="M552.5 563.05H571.8M552.5 568.65H571.8" stroke="#000" stroke-width="1.15" fill="none"/>
<path d="M552.5 589.95H571.8M552.5 595.55H571.8" stroke="#000" stroke-width="1.15" fill="none"/>
<path d="M552.5 616.75H571.8M552.5 622.35H571.8" stroke="#000" stroke-width="1.15" fill="none"/>
<path d="M740.0 563.05H759.3M740.0 568.65H759.3" stroke="#000" stroke-width="1.15" fill="none"/>
<path d="M740.0 589.95H759.3M740.0 595.55H759.3" stroke="#000" stroke-width="1.15" fill="none"/>
<path d="M740.0 616.75H759.3M740.0 622.35H759.3" stroke="#000" stroke-width="1.15" fill="none"/>
<path d="M74.9 557.2H91.8M89.2 657.9H106.1" stroke="#000" stroke-width="1.25" fill="none"/>
<path d="M650.0 149.0H690.5" stroke="#d01216" stroke-width="2" fill="none"/>
<path d="M650.0 175.8H690.5" stroke="#d4830e" stroke-width="2" fill="none"/>
<path d="M472.7 565.9H513.2" stroke="#000000" stroke-width="2" fill="none" stroke-dasharray="6.25 5.25"/>
<path d="M472.7 592.8H513.2" stroke="#127acd" stroke-width="2" fill="none" stroke-dasharray="6.25 5.25"/>
<path d="M472.7 619.5H513.2" stroke="#1400d2" stroke-width="2" fill="none" stroke-dasharray="6.25 5.25"/>
<path d="M660.2 565.9H700.7" stroke="#000000" stroke-width="2" fill="none"/>
<path d="M660.2 592.8H700.7" stroke="#127acd" stroke-width="2" fill="none"/>
<path d="M660.2 619.5H700.7" stroke="#1400d2" stroke-width="2" fill="none"/>
<!-- text -->
<g opacity="0.999">
<text transform="matrix(0.1811 0 0 0.2291 5.45 34.15)" stroke="#fff" stroke-width="3.4">(</text>
<text transform="matrix(0.2413 0 0 0.2000 18.21 33.7)" stroke="#fff" stroke-width="2.7">a</text>
<text transform="matrix(0.1846 0 0 0.2291 39.69 34.15)" stroke="#fff" stroke-width="3.4">)</text>
<text transform="matrix(0.1811 0 0 0.2291 5.45 276.45)" stroke="#fff" stroke-width="3.4">(</text>
<text transform="matrix(0.2075 0 0 0.2043 21.5 274.99)" stroke="#fff" stroke-width="2.9">b</text>
<text transform="matrix(0.1846 0 0 0.2291 42.79 276.45)" stroke="#fff" stroke-width="3.4">)</text>
<text transform="matrix(0.1441 0 0 0.1478 109.19 22.01)">0.5</text>
<text transform="matrix(0.1461 0 0 0.1478 94.08 122.76)">0.25</text>
<text transform="matrix(0.1407 0 0 0.1489 131.12 223.65)">0</text>
<text transform="matrix(0.1441 0 0 0.1478 109.19 264.06)">0.5</text>
<text transform="matrix(0.1461 0 0 0.1478 94.08 364.82)">0.25</text>
<text transform="matrix(0.1407 0 0 0.1489 131.12 465.73)">0</text>
<text transform="matrix(0.1461 0 0 0.1478 94.08 566.34)">0.25</text>
<text transform="matrix(0.1441 0 0 0.1478 109.19 667.11)">0.5</text>
<text transform="matrix(0.1547 0 0 0.1496 162.12 702.65)">0</text>
<text transform="matrix(0.1496 0 0 0.1485 259.75 702.5)">0.5</text>
<text transform="matrix(0.1437 0 0 0.1466 380.06 702.45)">1</text>
<text transform="matrix(0.1504 0 0 0.1470 476.84 702.51)">1.5</text>
<text transform="matrix(0.1494 0 0 0.1492 597.1 702.45)">2</text>
<text transform="matrix(0.1477 0 0 0.1496 694.82 702.5)">2.5</text>
<text transform="matrix(0.1488 0 0 0.1507 814.46 702.65)">3</text>
<text transform="matrix(0 -0.1600 0.1634 0 64.17 149.46)" font-style="italic">C</text>
<text transform="matrix(0 -0.1517 0.1439 0 62.8 112.46)" font-style="italic">k</text>
<text transform="matrix(0 -0.1101 0.1053 0 67.7 96.85)">B</text>
<text transform="matrix(0 -0.1600 0.1642 0 41.67 492.56)" font-style="italic">C</text>
<text transform="matrix(0 -0.1517 0.1439 0 40.4 455.36)" font-style="italic">k</text>
<text transform="matrix(0 -0.1101 0.1053 0 45.1 439.95)">B</text>
<text transform="matrix(0.1552 0 0 0.1432 440.22 748)" font-style="italic">k</text>
<text transform="matrix(0.1151 0 0 0.1076 455.22 752.2)">B</text>
<text transform="matrix(0.1802 0 0 0.1443 469.66 747.7)" font-style="italic">T</text>
<text transform="matrix(0.1718 0 0 0.1439 506.5 748.1)" font-style="italic">ħ</text>
<text transform="matrix(0.1362 0 0 0.1323 522.28 747.84)" font-style="italic">ω</text>
<text transform="matrix(0.1111 0 0 0.0885 540.73 752.12)" font-style="italic">c</text>
<text transform="matrix(0.1409 0 0 0.1333 688.65 112.23)" font-style="italic">ω</text>
<text transform="matrix(0.1148 0 0 0.0979 707.71 117)" font-style="italic">c</text>
<text transform="matrix(0.1500 0 0 0.1466 756.75 113.01)">3</text>
<text transform="matrix(0.1409 0 0 0.1333 508.2 535.53)" font-style="italic">ω</text>
<text transform="matrix(0.1148 0 0 0.0979 527.26 540.3)" font-style="italic">c</text>
<text transform="matrix(0.1511 0 0 0.1445 576.44 536.17)">0.3</text>
<text transform="matrix(0.1409 0 0 0.1333 695.65 535.53)" font-style="italic">ω</text>
<text transform="matrix(0.1148 0 0 0.0979 714.71 540.3)" font-style="italic">c</text>
<text transform="matrix(0.1500 0 0 0.1466 763.75 536.31)">3</text>
<text transform="matrix(0.1529 0 0 0.1396 708.19 156.62)" font-style="italic">s</text>
<text transform="matrix(0.1440 0 0 0.1478 758.4 156.6)">3</text>
<text transform="matrix(0.1529 0 0 0.1396 708.19 183.47)" font-style="italic">s</text>
<text transform="matrix(0.1432 0 0 0.1432 758.85 182.85)">2</text>
<text transform="matrix(0.1529 0 0 0.1396 530.89 573.47)" font-style="italic">s</text>
<text transform="matrix(0.1366 0 0 0.1424 581.18 572.95)">1</text>
<text transform="matrix(0.1529 0 0 0.1396 530.89 600.37)" font-style="italic">s</text>
<text transform="matrix(0.1466 0 0 0.1456 581.37 600.21)">0.5</text>
<text transform="matrix(0.1529 0 0 0.1396 530.89 627.17)" font-style="italic">s</text>
<text transform="matrix(0.1472 0 0 0.1456 581.37 627.01)">0.1</text>
<text transform="matrix(0.1529 0 0 0.1396 718.39 573.47)" font-style="italic">s</text>
<text transform="matrix(0.1366 0 0 0.1424 768.68 572.95)">1</text>
<text transform="matrix(0.1529 0 0 0.1396 718.39 600.37)" font-style="italic">s</text>
<text transform="matrix(0.1466 0 0 0.1456 768.87 600.21)">0.5</text>
<text transform="matrix(0.1529 0 0 0.1396 718.39 627.17)" font-style="italic">s</text>
<text transform="matrix(0.1472 0 0 0.1456 768.87 627.01)">0.1</text>
</g>
</svg>
</body></html>
